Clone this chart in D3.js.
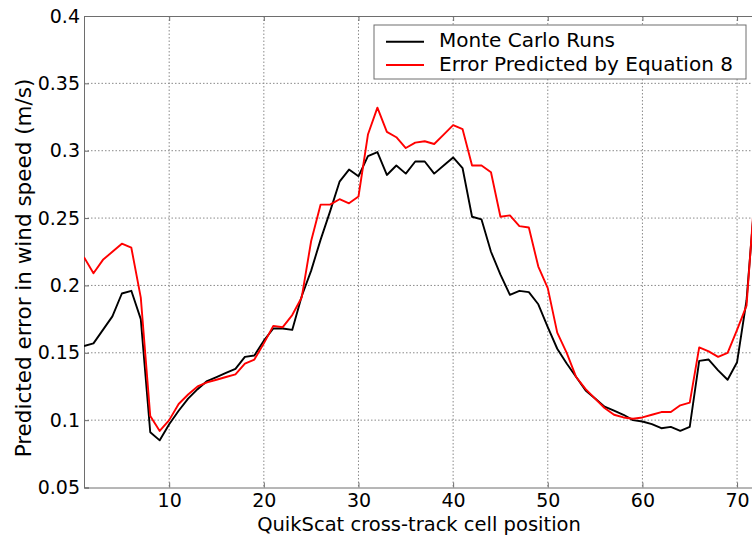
<!DOCTYPE html>
<html>
<head>
<meta charset="utf-8">
<script src="https://cdn.jsdelivr.net/npm/d3@7"></script>
<style>
  body { margin: 0; background: #fff; }
  svg { display: block; font-family: "DejaVu Sans", sans-serif; }
</style>
</head>
<body>
<div id="chart"></div>
<script>
let chart_width = 752;
let chart_height = 536;

// cell positions 1..72
let cells = d3.range(1, 73);
let monteCarlo = [0.155,0.157,0.167,0.177,0.194,0.196,0.175,0.091,0.085,0.097,
  0.107,0.116,0.123,0.129,0.132,0.135,0.138,0.147,0.148,0.159,
  0.168,0.168,0.167,0.192,0.211,0.234,0.255,0.277,0.286,0.281,
  0.296,0.299,0.282,0.289,0.283,0.292,0.292,0.283,0.289,0.295,
  0.287,0.251,0.249,0.225,0.208,0.193,0.196,0.195,0.186,0.169,
  0.153,0.142,0.132,0.122,0.116,0.110,0.107,0.104,0.100,0.099,
  0.097,0.094,0.095,0.092,0.095,0.144,0.145,0.137,0.130,0.143,
  0.189,0.276];
let predicted = [0.221,0.209,0.219,0.225,0.231,0.228,0.191,0.103,0.092,0.100,
  0.112,0.119,0.125,0.128,0.130,0.132,0.134,0.142,0.145,0.157,
  0.170,0.169,0.178,0.191,0.233,0.260,0.260,0.264,0.261,0.266,
  0.312,0.332,0.314,0.310,0.302,0.306,0.307,0.305,0.312,0.319,
  0.316,0.289,0.289,0.284,0.251,0.252,0.244,0.243,0.214,0.198,
  0.165,0.150,0.132,0.123,0.116,0.109,0.104,0.102,0.101,0.102,
  0.104,0.106,0.106,0.111,0.113,0.154,0.151,0.147,0.150,0.167,
  0.185,0.282];
let xTicks = [10,20,30,40,50,60,70];
let yTicks = [0.05,0.1,0.15,0.2,0.25,0.3,0.35,0.4];
let seriesNames = ['Monte Carlo Runs', 'Error Predicted by Equation 8'];
let seriesColors = ['#000000', '#ff0000'];

let plotLeft = 84, plotRight = 756, plotTop = 16, plotBottom = 487.5;

let xScale = d3.scaleLinear().domain([1,72]).range([plotLeft,plotRight]);
let yScale = d3.scaleLinear().domain([0.05,0.4]).range([plotBottom,plotTop]);

let svg = d3.select('#chart')
    .append('svg')
    .attr('width',chart_width)
    .attr('height',chart_height);

svg.append('clipPath').attr('id','plotClip')
    .append('rect')
    .attr('x',plotLeft).attr('y',plotTop)
    .attr('width',plotRight-plotLeft).attr('height',plotBottom-plotTop);

// grid
let grid = svg.append('g').attr('class','grid');
grid.selectAll('.vgrid')
    .data(xTicks)
    .enter()
    .append('line')
    .attr('x1',d=>xScale(d)).attr('x2',d=>xScale(d))
    .attr('y1',plotTop).attr('y2',plotBottom)
    .attr('stroke','#8a8a8a')
    .attr('stroke-width',1)
    .attr('stroke-dasharray','1.5,2');
grid.selectAll('.hgrid')
    .data(yTicks.slice(1,-1))
    .enter()
    .append('line')
    .attr('x1',plotLeft).attr('x2',plotRight)
    .attr('y1',d=>yScale(d)).attr('y2',d=>yScale(d))
    .attr('stroke','#8a8a8a')
    .attr('stroke-width',1)
    .attr('stroke-dasharray','1.5,2');

// axes
let xAxis = d3.axisBottom(xScale).tickValues(xTicks).tickSize(-5).tickPadding(6);
let xAxisTop = d3.axisTop(xScale).tickValues(xTicks).tickSize(-5).tickFormat('');
let yAxis = d3.axisLeft(yScale).tickValues(yTicks).tickSize(-5).tickPadding(4)
    .tickFormat(d=>d3.format('')(+d.toFixed(2)));

function styleAxis(g){
    g.select('.domain').attr('stroke','#6e6e6e').attr('stroke-width',1);
    g.selectAll('.tick line').attr('stroke','#6e6e6e');
    g.selectAll('.tick text').attr('fill','#000')
        .style('font-family','"DejaVu Sans", sans-serif')
        .style('font-size','19px');
}

svg.append('g').attr('transform','translate(0,'+plotBottom+')').call(xAxis).call(styleAxis);
svg.append('g').attr('transform','translate(0,'+plotTop+')').call(xAxisTop).call(styleAxis);
svg.append('g').attr('transform','translate('+plotLeft+',0)').call(yAxis).call(styleAxis);

// lines
let lineGen = d3.line()
    .x(d=>xScale(d[0]))
    .y(d=>yScale(d[1]));

let lines = svg.append('g').attr('clip-path','url(#plotClip)');
[monteCarlo, predicted].forEach(function(values, i){
    lines.append('path')
        .datum(cells.map((c,j)=>[c, values[j]]))
        .attr('d',lineGen)
        .attr('fill','none')
        .attr('stroke',seriesColors[i])
        .attr('stroke-width',1.9)
        .attr('stroke-linejoin','round');
});

// legend
let legend = svg.append('g').attr('transform','translate(374,25)');
legend.append('rect')
    .attr('width',372).attr('height',54)
    .attr('fill','#fff')
    .attr('stroke','#6e6e6e')
    .attr('stroke-width',1);
seriesNames.forEach(function(name, i){
    let ly = 16.7 + i*23.3;
    legend.append('line')
        .attr('x1',12).attr('x2',50)
        .attr('y1',ly).attr('y2',ly)
        .attr('stroke',seriesColors[i])
        .attr('stroke-width',1.9);
    legend.append('text')
        .text(name)
        .attr('x',65).attr('y',ly+5.5)
        .style('font-size','20px');
});

// axis labels
svg.append('text')
    .text('QuikScat cross-track cell position')
    .attr('x',419).attr('y',531)
    .attr('text-anchor','middle')
    .style('font-size','19.5px');

svg.append('text')
    .text('Predicted error in wind speed (m/s)')
    .attr('transform','translate(31,268) rotate(-90)')
    .attr('text-anchor','middle')
    .style('font-size','21.5px');
</script>
</body>
</html>
